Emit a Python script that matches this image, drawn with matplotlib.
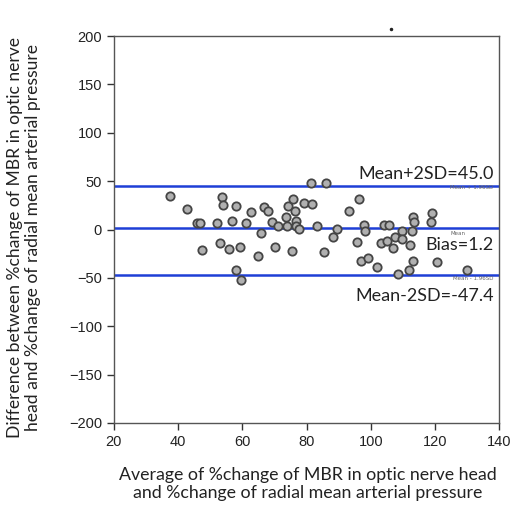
import matplotlib
matplotlib.use("Agg")
import matplotlib.pyplot as plt
import numpy as np

# data
avg = [37.5, 42.7, 45.8, 46.8, 47.3, 52.0, 53.0, 53.8, 54.1, 55.9, 56.7, 57.9,
       59.3, 57.9, 59.7, 61.3, 62.6, 64.9, 65.9, 66.8, 68.1, 69.1, 70.1, 71.1,
       73.7, 74.2, 74.0, 75.6, 75.9, 76.4, 76.6, 76.6, 77.7, 79.2, 81.8, 81.3,
       83.4, 85.5, 86.0, 88.4, 89.6, 93.3, 95.8, 96.4, 97.9, 98.1, 96.9, 99.0,
       101.8, 103.1, 104.0, 105.0, 105.7, 107.0, 107.5, 108.5, 109.6, 109.7,
       111.8, 112.3, 112.8, 113.3, 113.5, 113.3, 119.0, 118.9, 120.5, 130.0]
diff = [34.7, 21.7, 6.7, 6.7, -20.7, 6.7, -13.9, 34.0, 25.2, -20.0, 8.4, 24.5,
        -18.3, -42.3, -51.9, 6.7, 18.6, -26.9, -3.6, 23.4, 19.3, 7.4, -17.6, 3.5,
        12.5, 24.5, 3.5, -22.1, 32.0, 19.3, 8.4, 3.5, 0.5, 27.2, 26.9, 48.4,
        3.5, -23.4, 48.4, -8.0, 0.5, 19.3, -13.2, 32.0, 4.5, -1.9, -32.7, -29.6,
        -38.8, -14.2, 4.5, -12.2, 4.5, -19.3, -8.0, -45.7, -1.2, -9.8,
        -41.6, -15.6, -1.2, 12.5, 7.4, -32.0, 16.9, 7.4, -33.7, -42.3]
bias = 1.2
upper = 45.0
lower = -47.4
stray = (106.3, 207)

fig = plt.figure(figsize=(5.13, 5.09), dpi=100)
ax = fig.add_axes([0.222, 0.169, 0.751, 0.760])

# limit lines
for v in [upper, bias, lower]:
    ax.axhline(v, color='#1e3fd6', linewidth=1.8, zorder=2)

# points
ax.plot(avg, diff, 'o', markersize=6.0, markerfacecolor='#b0b0b0',
        markeredgecolor='#454545', markeredgewidth=1.3, zorder=3)
ax.plot([stray[0]], [stray[1]], '.', color='#222222', markersize=3, clip_on=False)

ax.set_xlim(20, 140)
ax.set_ylim(-200, 200)
ax.set_xticks(np.arange(20, 141, 20))
ax.set_yticks(np.arange(-200, 201, 50))

# annotations
lab = dict(family='Lato', fontsize=13, color='#222222', ha='right')
ax.text(138.3, upper + 4, 'Mean+2SD=45.0', va='bottom', **lab)
ax.text(138.3, -15.6, 'Bias=1.2', va='center', **lab)
ax.text(138.3, -69, 'Mean-2SD=-47.4', va='center', **lab)
small = dict(fontsize=4, color='#666666', ha='right', va='center')
ax.text(138.3, upper - 2, 'Mean + 1.96SD', **small)
ax.text(129.5, bias - 5, 'Mean', **small)
ax.text(138.3, lower - 3, 'Mean - 1.96SD', **small)

# ticks n labels
ax.tick_params(axis='both', direction='out', length=5, width=1, colors='#333333',
               labelsize=10.5, labelcolor='#222222')
for t in ax.get_xticklabels() + ax.get_yticklabels():
    t.set_family('Liberation Sans')
ax.set_xlabel('Average of %change of MBR in optic nerve head\nand %change of radial mean arterial pressure',
              family='Lato', fontsize=12.8, color='#222222', linespacing=1.2, va='top')
ax.set_ylabel('Difference between %change of MBR in optic nerve\nhead and %change of radial mean arterial pressure',
              family='Lato', fontsize=12.6, color='#222222', linespacing=1.1)
ax.xaxis.set_label_coords(0.503, -0.113)
ax.yaxis.set_label_coords(-0.19, 0.479)

for s in ax.spines.values():
    s.set_color('#555555')
    s.set_linewidth(1.0)

fig.savefig('out.png', dpi=100)
